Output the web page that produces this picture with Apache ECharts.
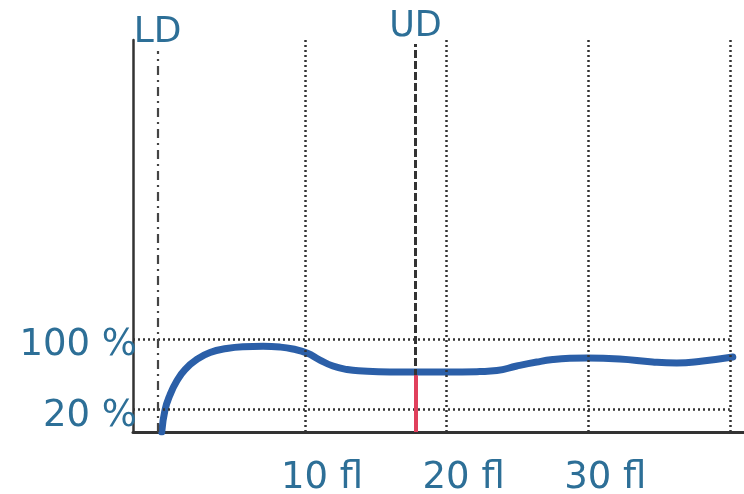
<!DOCTYPE html>
<html>
<head>
<meta charset="utf-8">
<script src="https://cdn.jsdelivr.net/npm/echarts@6/dist/echarts.min.js"></script>
<style>html,body{margin:0;padding:0;background:#fff}#c{width:744px;height:494px}</style>
</head>
<body>
<div id="c"></div>
<script>
// Data
const curveX = [-0.11, 0.12, 0.47, 0.95, 1.53, 2.36, 3.30, 4.47, 5.62, 7.04, 8.23, 9.15, 10.14, 11.06, 11.98, 12.97, 14.09, 16.0, 17.83, 20.02, 22.35, 23.55, 24.96, 26.37, 27.5, 28.7, 29.9, 32.22, 34.55, 36.25, 38.09, 40.21];
const curveY = [-5.5, 19.4, 36.5, 52.3, 65.4, 76.8, 84.7, 89.2, 91.2, 91.7, 90.9, 88.7, 84.1, 76.2, 69.4, 65.4, 63.7, 62.6, 62.5, 62.5, 63.1, 64.2, 69.4, 73.9, 76.7, 78.1, 78.4, 77.3, 73.9, 72.8, 75.1, 79.6];
const xTickLabels = [10, 20, 30];
const xGridLines = [10, 20, 30, 40];
const yTickLabels = [20, 100];
const ldPos = -0.4;
const udPos = 17.8;
const udLevel = 59;

const xMin = -2.14, xMax = 41.0;
const yMin = -5.5, yMax = 439.4;
const ldTop = 426.9, udTop = 434.9;
const textColor = '#2d6f97';
const fontFam = 'DejaVu Sans';

const chart = echarts.init(document.getElementById('c'), null, {renderer: 'canvas'});

const dotted = {type: [2, 3], color: '#333', width: 2.5};
const gridMarks = [];
xGridLines.forEach(v => gridMarks.push({xAxis: v, lineStyle: dotted}));
yTickLabels.forEach(v => gridMarks.push([{coord: [xMin, v]}, {coord: [40, v], lineStyle: dotted}]));
gridMarks.push([
  {coord: [ldPos, yMin], lineStyle: {type: [9, 5, 2, 5], color: '#444', width: 2.2},
   label: {show: true, position: 'end', formatter: 'LD', color: textColor, fontSize: 36, fontFamily: fontFam, distance: 0}},
  {coord: [ldPos, ldTop]}
]);
gridMarks.push([
  {coord: [udPos, yMin], lineStyle: {type: [8, 3], color: '#333', width: 3},
   label: {show: true, position: 'end', formatter: 'UD', color: textColor, fontSize: 35, fontFamily: fontFam, distance: 0}},
  {coord: [udPos, udTop]}
]);

chart.setOption({
  animation: false,
  backgroundColor: '#fff',
  grid: {left: 133, right: 0, top: 40, bottom: 62, containLabel: false, outerBoundsMode: 'none'},
  xAxis: {
    type: 'value', min: xMin, max: xMax,
    axisLine: {show: true, onZero: false, lineStyle: {color: '#333', width: 3}},
    axisTick: {show: false},
    splitLine: {show: false},
    axisLabel: {
      customValues: xTickLabels,
      formatter: v => v + ' fl',
      color: textColor, fontSize: 37, fontFamily: fontFam,
      align: 'left', padding: [0, 0, 0, -24], margin: 28
    }
  },
  yAxis: {
    type: 'value', min: yMin, max: yMax,
    axisLine: {show: true, onZero: false, lineStyle: {color: '#333', width: 2.5}},
    axisTick: {show: false},
    splitLine: {show: false},
    axisLabel: {
      customValues: yTickLabels,
      formatter: v => v + ' %',
      color: textColor, fontSize: 37, fontFamily: fontFam,
      margin: -4, verticalAlign: 'top', padding: [-12, 0, 0, 0]
    }
  },
  series: [
    {
      type: 'line', data: [], z: 1, silent: true,
      markLine: {silent: true, symbol: 'none', animation: false, label: {show: false}, data: gridMarks}
    },
    {
      type: 'line', data: [], z: 2, silent: true,
      markLine: {silent: true, symbol: 'none', animation: false, label: {show: false},
        data: [[{coord: [udPos, yMin], lineStyle: {color: '#e0405c', width: 4, type: 'solid'}}, {coord: [udPos, udLevel]}]]}
    },
    {
      type: 'line', z: 3,
      data: curveX.map((x, i) => [x, curveY[i]]),
      smooth: 0.5, symbol: 'none', clip: true,
      lineStyle: {color: '#2b5fa8', width: 7, cap: 'round'}
    }
  ]
});
</script>
</body>
</html>
